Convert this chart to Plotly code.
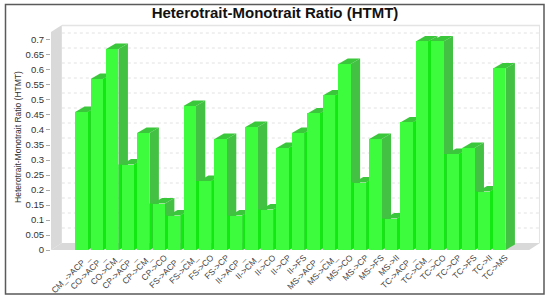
import plotly.graph_objects as go

categories = ["CM_->ACP _", "CO->ACP _", "CO->CM_", "CP->ACP _", "CP->CM_", "CP->CO",
              "FS->ACP _", "FS->CM_", "FS->CO", "FS->CP", "II->ACP _", "II->CM_", "II->CO",
              "II->CP", "II->FS", "MS->ACP _", "MS->CM_", "MS->CO", "MS->CP", "MS->FS",
              "MS->II", "TC->ACP _", "TC->CM_", "TC->CO", "TC->CP", "TC->FS", "TC->II", "TC->MS"]
values = [0.46, 0.57, 0.67, 0.285, 0.39, 0.155, 0.115, 0.48, 0.23, 0.37, 0.115, 0.41, 0.135,
          0.34, 0.39, 0.455, 0.515, 0.62, 0.225, 0.37, 0.105, 0.425, 0.695, 0.695,
          0.32, 0.34, 0.195, 0.605]
y_ticks = [0, 0.05, 0.1, 0.15, 0.2, 0.25, 0.3, 0.35, 0.4, 0.45, 0.5, 0.55, 0.6, 0.65, 0.7]

W, H = 550, 301
ML, MR, MT, MB = 51, 10, 24, 51
X_RANGE = [-1.96, 29.63]
Y_RANGE = [0, 0.7533]
BAR_W = 0.8
DX, DY = 0.61, 0.018       # bar depth
WX, WY = 0.70, 0.0233      # wall depth
XL, XR = X_RANGE
YT = 0.7267
FRONT, SIDE, TOP, GAP = "#3dfb3d", "#43c143", "#3bc73b", "#12e812"
WALL, GRID = "#d9d9d9", "#e2e2e2"

fig = go.Figure()

def poly(xs, ys, fill, line=None):
    fig.add_trace(go.Scatter(x=xs, y=ys, mode="lines", fill="toself", fillcolor=fill,
                             line=dict(width=0.5 if line else 0, color=line or fill),
                             hoverinfo="skip", showlegend=False))

# walls and floor
poly([XL, XL + WX, XL + WX, XL], [0, WY, YT + WY, YT], WALL)
poly([XL, XR - WX, XR, XL + WX], [0, 0, WY, WY], WALL)
fig.add_trace(go.Scatter(x=[XL + WX, XR - 0.02, XR - 0.02], y=[YT + WY - 0.002, YT + WY - 0.002, WY],
                         mode="lines", line=dict(color="#e4e4e4", width=1.5),
                         hoverinfo="skip", showlegend=False))
gx, gy = [], []
for t in y_ticks[1:]:
    gx += [XL + WX, XR, None]
    gy += [t + WY, t + WY, None]
fig.add_trace(go.Scatter(x=gx, y=gy, mode="lines", line=dict(color=GRID, width=1, dash="dot"),
                         hoverinfo="skip", showlegend=False))

# depth faces of the bars
for i, v in enumerate(values):
    xl, xr = i - BAR_W / 2, i + BAR_W / 2
    poly([xr, xr + DX, xr + DX, xr], [0, DY, v + DY, v], SIDE)
    poly([xl, xr, xr + DX, xl + DX], [v, v, v + DY, v + DY], TOP)
    if i + 1 < len(values):
        m = min(v, values[i + 1])
        gap = 1 - BAR_W
        rise = DY * gap / DX if v <= values[i + 1] else 0
        poly([xr, xr + gap, xr + gap, xr], [0, DY * gap / DX, m + rise, m], GAP)

# front faces, on an overlay so they sit above the depth faces
fig.add_trace(go.Bar(x=list(range(len(values))), y=values, width=BAR_W, marker=dict(color=FRONT, line_width=0),
                     xaxis="x2", yaxis="y2", showlegend=False,
                     customdata=categories, hovertemplate="%{customdata}: %{y}<extra></extra>"))

# chart frame
fx = lambda p: (p - ML) / (W - ML - MR)
fy = lambda p: 1 - (p - MT) / (H - MT - MB)
fig.add_shape(type="rect", xref="paper", yref="paper", x0=fx(5.5), x1=fx(544), y0=fy(294), y1=fy(4.5),
              line=dict(color="#5a5a5a", width=1.5), layer="above")

font = "Liberation Sans, Arial, sans-serif"
fig.update_layout(
    width=W, height=H, margin=dict(l=ML, r=MR, t=MT, b=MB, autoexpand=False),
    paper_bgcolor="white", plot_bgcolor="white", bargap=0,
    font=dict(family=font, color="#333333"),
    title=dict(text="<b>Heterotrait-Monotrait Ratio (HTMT)</b>", x=0.5, xref="container", xanchor="center",
               y=0.957, yanchor="middle", font=dict(size=15, color="#111111", family=font)),
    xaxis=dict(range=X_RANGE, tickmode="array", tickvals=list(range(len(categories))), ticktext=categories,
               tickangle=-45, tickfont=dict(size=8.5, color="#444444"), showgrid=False, zeroline=False,
               ticks="", showline=False, ticklabelshift=6),
    yaxis=dict(range=Y_RANGE, tickmode="array", tickvals=y_ticks, ticktext=[f"{t:g}" for t in y_ticks],
               tickfont=dict(size=9.5, color="#333333"), showgrid=False, zeroline=False,
               ticks="outside", ticklen=4, tickcolor="#aaaaaa", showline=False,
               title=dict(text="Heterotrait-Monotrait Ratio (HTMT)", font=dict(size=8.5, color="#333333"), standoff=2)),
    xaxis2=dict(range=X_RANGE, overlaying="x", visible=False),
    yaxis2=dict(range=Y_RANGE, overlaying="y", visible=False),
)
fig.write_html("out.html", post_script="document.body.style.margin='0';document.body.style.overflow='hidden';",
               config={"displayModeBar": False})
